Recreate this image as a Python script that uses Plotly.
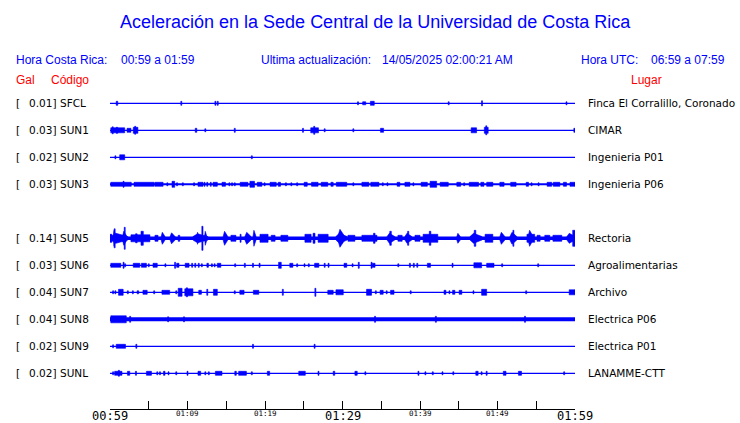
import plotly.graph_objects as go

# ---------------- data ----------------
STATIONS = ["SFCL", "SUN1", "SUN2", "SUN3", "SUN5", "SUN6", "SUN7", "SUN8", "SUN9", "SUNL"]
PEAK_GAL = [0.01, 0.03, 0.02, 0.03, 0.14, 0.03, 0.04, 0.04, 0.02, 0.02]
PLACES = ["Finca El Corralillo, Coronado", "CIMAR", "Ingenieria P01", "Ingenieria P06",
          "Rectoria", "Agroalimentarias", "Archivo", "Electrica P06", "Electrica P01", "LANAMME-CTT"]
# continuous background level of each trace (half height, plot units)
BASE_NOISE = [0.6, 0.6, 0.6, 1.0, 1.7, 0.6, 0.6, 2.0, 0.6, 0.6]

# bursts: (start minute, end minute, half amplitude) -- minutes after 00:59
SFCL_BURSTS = [(0.8, 1.0, 2), (9.2, 9.2, 2), (13.6, 13.6, 2), (13.9, 13.9, 2), (32.0, 32.0, 1.5),
               (32.6, 33.0, 1.5), (33.6, 34.1, 2), (43.7, 43.7, 1.5), (48.0, 48.0, 2.5), (58.9, 58.9, 1.5)]
SUN1_BURSTS = [(0.1, 1.9, 2.5), (0.3, 0.4, 3.5), (0.8, 1.0, 3), (2.2, 2.7, 2), (3.0, 3.6, 3), (3.2, 3.3, 4),
               (11.0, 11.2, 2), (12.3, 12.3, 1.5), (16.1, 16.1, 2), (24.9, 24.9, 2), (25.9, 26.9, 2.5),
               (26.3, 26.4, 4), (27.7, 27.7, 1.5), (31.4, 31.4, 1.5), (34.9, 35.3, 2), (46.6, 47.3, 2.5),
               (48.3, 48.8, 3), (48.5, 48.6, 4.5), (59.85, 60.0, 2)]
SUN2_BURSTS = [(0.7, 0.7, 1.5), (1.25, 1.9, 2.5), (18.3, 18.3, 1.5)]
SUN3_BURSTS = [(0.1, 2.75, 2), (1.7, 1.8, 3), (3.1, 5.7, 2), (5.8, 6.85, 2), (7.4, 7.4, 1.5), (8.0, 8.35, 3),
               (8.65, 8.65, 1.5), (9.4, 9.4, 1.5), (10.85, 10.85, 1.5), (11.35, 12.0, 2), (12.2, 12.2, 2),
               (12.55, 12.55, 2), (13.0, 13.0, 2), (13.3, 13.85, 2), (14.45, 14.9, 2), (15.4, 15.4, 1.5),
               (15.75, 15.75, 1.5), (16.1, 16.1, 1.5), (16.8, 17.8, 2), (18.05, 18.65, 3), (19.0, 19.6, 2),
               (19.95, 19.95, 1.5), (20.65, 21.45, 2), (21.7, 22.0, 2), (22.7, 22.7, 1.5), (23.4, 23.4, 1.5),
               (24.15, 24.15, 1.5), (25.05, 25.45, 2), (26.0, 26.85, 2), (27.25, 28.1, 2), (28.5, 28.8, 2),
               (29.2, 30.55, 2), (31.4, 31.4, 1.5), (32.5, 33.4, 2), (33.65, 34.7, 2), (35.2, 35.2, 1.5),
               (35.8, 35.8, 1.5), (37.05, 37.4, 2), (38.05, 38.7, 2), (39.15, 39.15, 1.5), (40.15, 40.95, 2),
               (41.3, 42.15, 3), (42.6, 43.65, 2), (44.75, 45.25, 2), (45.7, 45.7, 1.5), (46.35, 47.55, 2),
               (47.85, 48.25, 2), (48.6, 49.4, 2), (50.3, 50.85, 2), (51.7, 52.4, 2), (53.7, 54.0, 2),
               (54.4, 54.4, 1.5), (55.3, 55.3, 1.5), (56.4, 57.0, 2), (57.2, 58.05, 2), (58.5, 58.9, 2),
               (59.35, 60.0, 2)]
SUN5_BURSTS = [(0.0, 0.25, 4), (0.1, 2.3, 5), (0.4, 0.8, 8), (0.55, 0.65, 9.5), (1.6, 2.2, 7), (1.85, 1.95, 11),
               (2.7, 5.15, 3.5), (3.3, 3.5, 4.5), (4.0, 4.3, 7), (5.8, 6.2, 3), (6.6, 7.1, 6), (7.75, 8.4, 5.5),
               (8.8, 9.0, 3), (10.7, 12.65, 4.5), (11.2, 11.5, 6), (11.85, 12.0, 12), (12.2, 12.5, 7),
               (14.6, 15.2, 7), (15.6, 16.25, 3), (16.8, 16.9, 4), (17.4, 18.2, 6), (18.45, 18.85, 8),
               (19.35, 20.4, 4), (20.8, 21.3, 3), (22.05, 22.95, 3), (25.15, 25.95, 4), (26.2, 26.45, 5),
               (26.85, 28.15, 4), (29.15, 30.6, 5), (29.4, 30.3, 9), (30.7, 31.6, 3), (32.5, 34.45, 3),
               (34.0, 34.2, 5), (35.75, 36.75, 5), (36.1, 36.3, 7), (37.15, 37.7, 3), (38.05, 38.95, 5),
               (38.4, 38.55, 7), (39.35, 40.0, 3), (40.4, 42.3, 4), (41.2, 41.4, 7), (44.75, 45.2, 5),
               (46.45, 48.0, 5), (47.0, 47.2, 8), (48.4, 49.4, 4), (50.3, 50.95, 6), (51.6, 52.5, 6),
               (52.0, 52.1, 8), (53.8, 54.8, 4), (53.95, 54.6, 8), (55.1, 55.5, 3), (56.1, 56.75, 3),
               (57.15, 58.3, 3), (58.95, 60.0, 5), (59.7, 60.0, 8)]
SUN6_BURSTS = [(0.1, 1.4, 2), (1.75, 1.75, 3), (1.95, 1.95, 1.5), (3.0, 3.85, 2), (4.05, 4.7, 2), (5.0, 5.0, 1.5),
               (5.55, 6.1, 2), (7.15, 7.15, 1.5), (8.4, 8.4, 3), (8.6, 8.9, 2), (9.7, 10.2, 2), (10.6, 10.6, 2),
               (11.0, 11.0, 2), (11.45, 11.45, 2), (11.85, 11.85, 1.5), (12.5, 12.7, 2), (13.15, 13.15, 1.5),
               (13.5, 13.5, 1.5), (13.85, 14.3, 2), (16.15, 16.15, 1.5), (17.4, 17.4, 2), (18.45, 18.45, 2),
               (19.3, 19.3, 2), (21.75, 22.1, 3), (23.2, 23.6, 2), (24.15, 24.15, 1.5), (25.1, 25.1, 1.5),
               (25.65, 25.65, 1.5), (26.4, 26.95, 2), (27.7, 27.7, 2), (28.2, 28.2, 2), (30.2, 30.55, 2),
               (31.3, 31.3, 1.5), (32.1, 32.1, 3), (33.75, 33.75, 3), (33.85, 34.2, 2), (37.2, 37.2, 1.5),
               (38.7, 38.7, 2), (39.2, 39.2, 2), (39.65, 39.65, 2), (40.95, 41.35, 2), (44.2, 44.2, 2),
               (46.95, 47.95, 2.5), (48.6, 49.55, 2), (50.6, 50.6, 1.5), (55.25, 55.25, 1.5)]
SUN7_BURSTS = [(0.4, 0.4, 1.5), (0.7, 0.7, 1.5), (1.1, 1.7, 3), (2.3, 2.3, 1.5), (2.95, 2.95, 1.5),
               (3.5, 3.7, 1.5), (4.25, 4.8, 2), (5.7, 5.7, 1.5), (6.7, 7.7, 2), (8.55, 8.55, 1.5), (8.8, 9.3, 4),
               (9.65, 10.7, 3.5), (9.85, 10.0, 4.5), (11.45, 11.8, 2), (12.55, 12.55, 3), (13.35, 13.85, 3),
               (16.1, 16.1, 1.5), (16.75, 17.3, 2), (18.5, 19.2, 2), (22.3, 22.3, 3), (26.5, 26.5, 4),
               (28.1, 28.8, 2), (29.15, 30.1, 2.5), (33.1, 33.75, 3), (34.3, 34.3, 1.5), (34.85, 35.25, 2),
               (35.7, 35.7, 1.5), (36.2, 36.65, 2), (38.8, 38.8, 1.5), (43.1, 43.35, 2), (43.8, 43.8, 1.5),
               (44.2, 44.5, 2), (45.05, 45.4, 2), (46.9, 46.9, 1.5), (47.95, 48.6, 3), (53.7, 53.7, 1.5),
               (59.25, 60.0, 2.5)]
SUN8_BURSTS = [(0.1, 2.1, 3.5), (2.55, 2.65, 3), (7.5, 7.5, 2.5), (9.55, 9.55, 2.5), (34.2, 34.2, 3),
               (42.05, 42.05, 3), (53.55, 53.55, 3)]
SUN9_BURSTS = [(0.4, 0.4, 1.5), (0.8, 2.0, 2), (3.4, 3.4, 2), (18.45, 18.45, 2), (26.4, 26.4, 2)]
SUNL_BURSTS = [(0.4, 0.4, 1.5), (0.6, 1.55, 2), (1.1, 1.2, 3), (2.25, 2.55, 2), (3.35, 3.35, 2), (4.7, 5.35, 2),
               (6.1, 6.1, 1.5), (6.45, 6.45, 1.5), (6.9, 7.1, 2), (7.55, 7.55, 1.5), (8.55, 8.55, 1.5),
               (10.0, 10.0, 2), (11.35, 11.7, 2), (12.3, 12.3, 1.5), (12.75, 12.75, 1.5), (13.6, 14.45, 2),
               (16.1, 16.3, 2), (16.6, 17.6, 2), (18.3, 18.3, 1.5), (20.3, 20.6, 2), (24.35, 25.2, 2),
               (26.9, 26.9, 2), (28.8, 29.0, 2), (31.6, 31.9, 2), (32.95, 32.95, 1.5), (39.8, 39.8, 2),
               (40.7, 40.7, 1.5), (41.65, 41.65, 1.5), (42.9, 42.9, 1.5), (44.3, 44.3, 1.5), (47.2, 47.5, 2),
               (47.95, 47.95, 1.5), (48.6, 48.6, 2), (50.75, 51.1, 2), (52.7, 53.1, 2), (58.6, 58.6, 1.5)]

BURSTS = [SFCL_BURSTS, SUN1_BURSTS, SUN2_BURSTS, SUN3_BURSTS, SUN5_BURSTS,
          SUN6_BURSTS, SUN7_BURSTS, SUN8_BURSTS, SUN9_BURSTS, SUNL_BURSTS]

TICK_MINUTES = [0, 5, 10, 15, 20, 25, 30, 35, 40, 45, 50, 55, 60]
LABEL_MINUTES = [0, 10, 20, 30, 40, 50, 60]
LABEL_TEXT = ["00:59", "01:09", "01:19", "01:29", "01:39", "01:49", "01:59"]
LARGE_LABELS = ["00:59", "01:29", "01:59"]

TITLE = "Aceleración en la Sede Central de la Universidad de Costa Rica"
HORA_CR = "00:59 a 01:59"
HORA_UTC = "06:59 a 07:59"
UPDATED = "14/05/2025 02:00:21 AM"

# ---------------- layout constants ----------------
FIG_W, FIG_H = 740, 423
PLOT_L, PLOT_R, PLOT_B = 110, 575, 409
PLOT_W = PLOT_R - PLOT_L
ROW0, ROW_STEP = 103.3, 27.0
GAP_AFTER = 4          # empty row (SUN4 not shown)
BLUE, RED = "#0000ff", "#ff0000"
SANS = "Liberation Sans, Arial, sans-serif"
DEJAVU = "DejaVu Sans, sans-serif"
MONO = "DejaVu Sans Mono, monospace"
MIN_W = 0.13
SPINDLE_AMP = 4.5      # bursts at least this tall are drawn as tapered wave packets


def px_x(p):
    return (p - PLOT_L) / PLOT_W


def px_y(p):
    return (PLOT_B - p) / PLOT_B


fig = go.Figure()
annotations = []

for i, (name, gal, place, base, bursts) in enumerate(zip(STATIONS, PEAK_GAL, PLACES, BASE_NOISE, BURSTS)):
    row = i + (1 if i >= GAP_AFTER else 0)
    c = ROW0 + ROW_STEP * row
    # continuous background
    fig.add_trace(go.Scatter(x=[0, 60], y=[c, c], mode="lines",
                             line=dict(color=BLUE, width=2 * base), hoverinfo="skip", showlegend=False))
    xs, ys = [], []
    for t0, t1, a in bursts:
        if t1 - t0 < MIN_W:
            m = (t0 + t1) / 2
            t0, t1 = m - MIN_W / 2, m + MIN_W / 2
        w = t1 - t0
        if a >= SPINDLE_AMP and w > 0.3:
            tp = t0 + 0.3 * w
            xs += [t0, tp, t1, t1, tp, t0, t0, None]
            ys += [c - base, c - a, c - base, c + base, c + a, c + base, c - base, None]
        else:
            xs += [t0, t1, t1, t0, t0, None]
            ys += [c - a, c - a, c + a, c + a, c - a, None]
    fig.add_trace(go.Scatter(x=xs, y=ys, mode="lines", fill="toself", fillcolor=BLUE,
                             line=dict(color=BLUE, width=0.6), hoverinfo="skip", showlegend=False))
    # left labels
    for px, s in [(14, "["), (26.5, f"{gal:.2f}]"), (57.5, name), (586, place)]:
        annotations.append(dict(x=px_x(px), y=c, xref="paper", yref="y", text=s, showarrow=False,
                                xanchor="left", yanchor="middle",
                                font=dict(family=DEJAVU, size=10.5, color="black")))

# time labels under the axis
for m, lab in zip(LABEL_MINUTES, LABEL_TEXT):
    big = lab in LARGE_LABELS
    annotations.append(dict(x=m, y=px_y(415.5 if big else 413.5), xref="x", yref="paper", text=lab,
                            showarrow=False, xanchor="center", yanchor="middle",
                            font=dict(family=MONO, size=12 if big else 7.5, color="black")))


def txt(x, y, s, color, size, anchor="left", family=SANS):
    annotations.append(dict(x=px_x(x), y=px_y(y), xref="paper", yref="paper", text=s, showarrow=False,
                            xanchor=anchor, yanchor="middle", font=dict(family=family, size=size, color=color)))


txt(375, 22, TITLE, BLUE, 18, anchor="center")
txt(14, 60, "Hora Costa Rica:", BLUE, 12)
txt(119, 60, HORA_CR, BLUE, 12)
txt(259, 60, "Ultima actualización:", BLUE, 12)
txt(380, 60, UPDATED, BLUE, 12)
txt(579, 60, "Hora UTC:", BLUE, 12)
txt(649, 60, HORA_UTC, BLUE, 12)
txt(14, 80, "Gal", RED, 12)
txt(49, 80, "Código", RED, 12)
txt(629, 80, "Lugar", RED, 12)

fig.update_layout(
    width=FIG_W, height=FIG_H,
    margin=dict(l=PLOT_L, r=FIG_W - PLOT_R, t=0, b=FIG_H - PLOT_B, pad=0),
    paper_bgcolor="white", plot_bgcolor="white",
    showlegend=False,
    annotations=annotations,
    xaxis=dict(range=[0, 60], showgrid=False, zeroline=False, showline=True, linecolor="black",
               linewidth=1, ticks="inside", ticklen=8, tickwidth=1, tickcolor="black",
               tickvals=TICK_MINUTES, showticklabels=False, fixedrange=True),
    yaxis=dict(range=[PLOT_B, 0], visible=False, fixedrange=True),
)

fig.write_html("out.html", config={"displayModeBar": False},
               post_script="document.body.style.margin='0';document.body.style.overflow='hidden';")
